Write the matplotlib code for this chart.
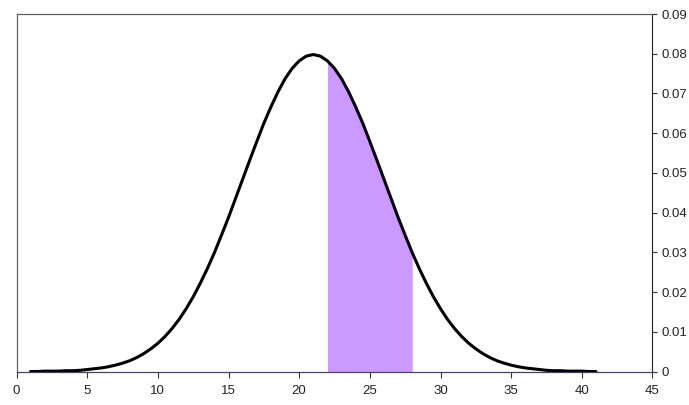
import numpy as np
import matplotlib
matplotlib.use('Agg')
import matplotlib.pyplot as plt
from matplotlib.ticker import MultipleLocator, FuncFormatter

plt.rcParams['font.family'] = ['Liberation Sans', 'DejaVu Sans']

# --- Data: density curve, sampled every 0.5 from x=1 to x=41 ---
x_vals = np.arange(1, 41.5, 0.5)
left_half = [0.0000, 0.0000, 0.0001, 0.0001, 0.0001, 0.0002, 0.0002, 0.0003,
             0.0005, 0.0007, 0.0009, 0.0012, 0.0016, 0.0021, 0.0027, 0.0035,
             0.0045, 0.0057, 0.0071, 0.0088, 0.0108, 0.0131, 0.0158, 0.0188,
             0.0222, 0.0259, 0.0299, 0.0343, 0.0388, 0.0436, 0.0484, 0.0532,
             0.0579, 0.0625, 0.0666, 0.0704, 0.0737, 0.0763, 0.0782, 0.0794,
             0.0798]
right_half = [0.0794, 0.0782, 0.0763, 0.0737, 0.0704, 0.0666, 0.0625, 0.0579,
              0.0532, 0.0484, 0.0436, 0.0388, 0.0343, 0.0299, 0.0259, 0.0222,
              0.0188, 0.0158, 0.0131, 0.0108, 0.0088, 0.0071, 0.0057, 0.0045,
              0.0035, 0.0027, 0.0021, 0.0016, 0.0012, 0.0009, 0.0007, 0.0005,
              0.0003, 0.0002, 0.0002, 0.0001, 0.0001, 0.0001, 0.0000, 0.0000]
density = np.array(left_half + right_half)

shade_from = 22
shade_to = 28

x_ticks = [0, 5, 10, 15, 20, 25, 30, 35, 40, 45]
y_ticks = [0, 0.01, 0.02, 0.03, 0.04, 0.05, 0.06, 0.07, 0.08, 0.09]

# --- Figure ---
fig = plt.figure(figsize=(6.89, 4.05), dpi=100)
ax = fig.add_axes([0.024, 0.0827, 0.923, 0.8827])

mask = (x_vals >= shade_from) & (x_vals <= shade_to)
ax.fill_between(x_vals, 0, density, where=mask, color='#CC99FF', linewidth=0, zorder=2)
ax.plot(x_vals, density, color='black', linewidth=2.2, solid_capstyle='round', zorder=3)

ax.set_xlim(0, 45)
ax.set_ylim(0, 0.09)
ax.set_xticks(x_ticks)
ax.set_yticks(y_ticks)
ax.yaxis.tick_right()
ax.yaxis.set_major_formatter(FuncFormatter(lambda v, p: '%g' % round(v, 2)))

ax.tick_params(axis='x', direction='out', length=4, width=0.8, pad=6,
               labelsize=9.5, colors='#333333', labelcolor='#222222')
ax.tick_params(axis='y', direction='out', length=3.5, width=0.8, pad=3,
               labelsize=9.5, colors='#333333', labelcolor='#222222')

for side in ['left', 'top']:
    ax.spines[side].set_color('#606060')
    ax.spines[side].set_linewidth(0.9)
ax.spines['right'].set_color('#222222')
ax.spines['right'].set_linewidth(0.8)
ax.spines['bottom'].set_color('#4a4262')
ax.spines['bottom'].set_linewidth(0.9)

fig.savefig('out.png', dpi=100, facecolor='white')
